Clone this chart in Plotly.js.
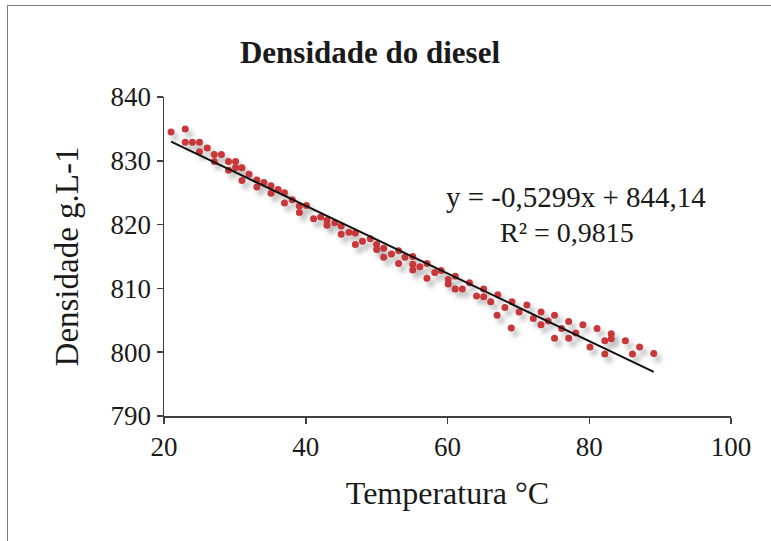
<!DOCTYPE html>
<html>
<head>
<meta charset="utf-8">
<script src="https://cdn.plot.ly/plotly-3.0.1.min.js"></script>
<style>
  html, body { margin: 0; padding: 0; background: #ffffff; }
  #wrap { position: relative; width: 771px; height: 541px; overflow: hidden; }
  #chart { position: absolute; left: 0; top: 0; width: 771px; height: 541px; }
  #frame { position: absolute; left: 7px; top: 5px; width: 800px; height: 600px;
           border-top: 1.5px solid #808080; border-left: 1.5px solid #808080; pointer-events: none; }
  /* soft drop shadow under every measured point */
  #chart .scatterlayer .trace:first-child .points path {
    filter: drop-shadow(4px 5px 2.5px rgba(0,0,0,0.28));
  }
</style>
</head>
<body>
<div id="wrap">
  <div id="chart"></div>
  <div id="frame"></div>
</div>
<script>
// Measured diesel density (g/L) against temperature (°C)
const temperatura = [
  21.0, 23.0, 23.0, 24.0, 25.0, 25.0, 26.1, 27.1, 27.1, 28.1,
  29.1, 29.1, 30.1, 30.1, 31.0, 31.0, 32.0, 33.1, 33.1, 34.1,
  35.1, 35.1, 36.1, 37.0, 37.0, 38.1, 39.1, 39.1, 40.1, 41.1,
  42.1, 43.0, 43.0, 44.1, 45.0, 45.0, 46.1, 47.0, 47.0, 48.0,
  49.1, 50.0, 50.0, 51.0, 51.0, 52.1, 53.1, 53.1, 54.0, 55.1,
  55.1, 55.1, 56.1, 57.1, 57.1, 58.2, 59.1, 60.1, 60.1, 61.1,
  61.1, 62.1, 63.1, 64.1, 65.1, 65.1, 66.1, 67.0, 67.1, 68.1,
  69.0, 69.1, 70.1, 71.2, 72.1, 73.2, 73.2, 74.2, 75.1, 75.1,
  76.1, 77.1, 77.1, 78.1, 79.1, 80.1, 81.1, 82.2, 82.2, 83.1,
  83.1, 85.1, 86.1, 87.1, 89.1
];
const densidade = [
  834.5, 835.0, 832.9, 832.9, 832.9, 831.4, 832.0, 831.0, 829.9, 831.0,
  829.9, 828.5, 829.9, 828.9, 828.9, 826.9, 827.9, 827.0, 825.9, 826.6,
  826.1, 824.9, 825.5, 825.0, 823.4, 823.9, 822.9, 821.9, 823.0, 820.9,
  821.2, 820.7, 819.9, 820.3, 819.8, 818.5, 818.8, 818.7, 816.9, 817.4,
  817.8, 816.9, 816.1, 816.3, 814.9, 815.4, 815.9, 813.9, 814.9, 815.0,
  813.8, 812.9, 813.4, 813.9, 811.6, 812.5, 812.8, 811.4, 810.7, 811.9,
  809.9, 809.9, 810.9, 808.8, 809.9, 808.7, 807.9, 805.8, 809.0, 807.0,
  803.8, 807.9, 806.3, 807.4, 805.3, 806.3, 804.3, 804.9, 805.8, 802.2,
  803.7, 804.8, 802.2, 803.0, 804.3, 800.8, 803.7, 801.8, 799.7, 802.9,
  802.1, 801.8, 799.7, 800.8, 799.8
];

// Linear fit reported on the chart
const slope = -0.5299;
const intercept = 844.14;
const rSquared = 0.9815;
const trendX = [Math.min(...temperatura), Math.max(...temperatura)];
const trendY = trendX.map(t => slope * t + intercept);

const xTicks = [20, 40, 60, 80, 100];
const yTicks = [790, 800, 810, 820, 830, 840];

const fmt = (v, d) => v.toFixed(d).replace('.', ',');
const eqText = 'y = ' + fmt(slope, 4) + 'x + ' + fmt(intercept, 2);
const r2Text = 'R² = ' + fmt(rSquared, 4);

const serif = '"Liberation Serif", "Times New Roman", serif';
const ink = '#1a1a1a';

const traces = [
  {
    x: temperatura, y: densidade, type: 'scatter', mode: 'markers',
    marker: { color: '#C8373A', size: 7, line: { width: 0 } },
    hoverinfo: 'skip', showlegend: false
  },
  {
    x: trendX, y: trendY, type: 'scatter', mode: 'lines',
    line: { color: '#111111', width: 2 },
    hoverinfo: 'skip', showlegend: false
  }
];

const layout = {
  width: 771, height: 541,
  margin: { l: 164, r: 40, t: 97, b: 125, pad: 0 },
  paper_bgcolor: '#ffffff', plot_bgcolor: '#ffffff',
  font: { family: serif, color: ink, size: 27 },
  title: {
    text: '<b>Densidade do diesel</b>',
    font: { family: serif, size: 31, color: ink },
    x: 370 / 771, xanchor: 'center', y: 1 - 52 / 541, yanchor: 'middle'
  },
  xaxis: {
    range: [20, 100], tickvals: xTicks, ticktext: xTicks.map(String),
    showgrid: false, zeroline: false,
    showline: true, linecolor: '#404040', linewidth: 1.5,
    ticks: 'outside', ticklen: 6, tickcolor: '#404040', tickwidth: 1.5,
    tickfont: { family: serif, size: 27, color: ink },
    title: { text: 'Temperatura °C', font: { family: serif, size: 32, color: ink }, standoff: 20 }
  },
  yaxis: {
    range: [790, 840], tickvals: yTicks, ticktext: yTicks.map(String),
    showgrid: false, zeroline: false,
    showline: true, linecolor: '#404040', linewidth: 1.5,
    ticks: 'outside', ticklen: 6, tickcolor: '#404040', tickwidth: 1.5,
    tickfont: { family: serif, size: 27, color: ink },
    title: { text: 'Densidade g.L-1', font: { family: serif, size: 33, color: ink }, standoff: 22 }
  },
  annotations: [
    { x: 78.1, y: 824.3, xref: 'x', yref: 'y', text: eqText, showarrow: false,
      font: { family: serif, size: 29, color: ink }, xanchor: 'center', yanchor: 'middle' },
    { x: 76.9, y: 818.8, xref: 'x', yref: 'y', text: r2Text, showarrow: false,
      font: { family: serif, size: 28, color: ink }, xanchor: 'center', yanchor: 'middle' }
  ]
};

Plotly.newPlot('chart', traces, layout, { staticPlot: true, displayModeBar: false });
</script>
</body>
</html>
